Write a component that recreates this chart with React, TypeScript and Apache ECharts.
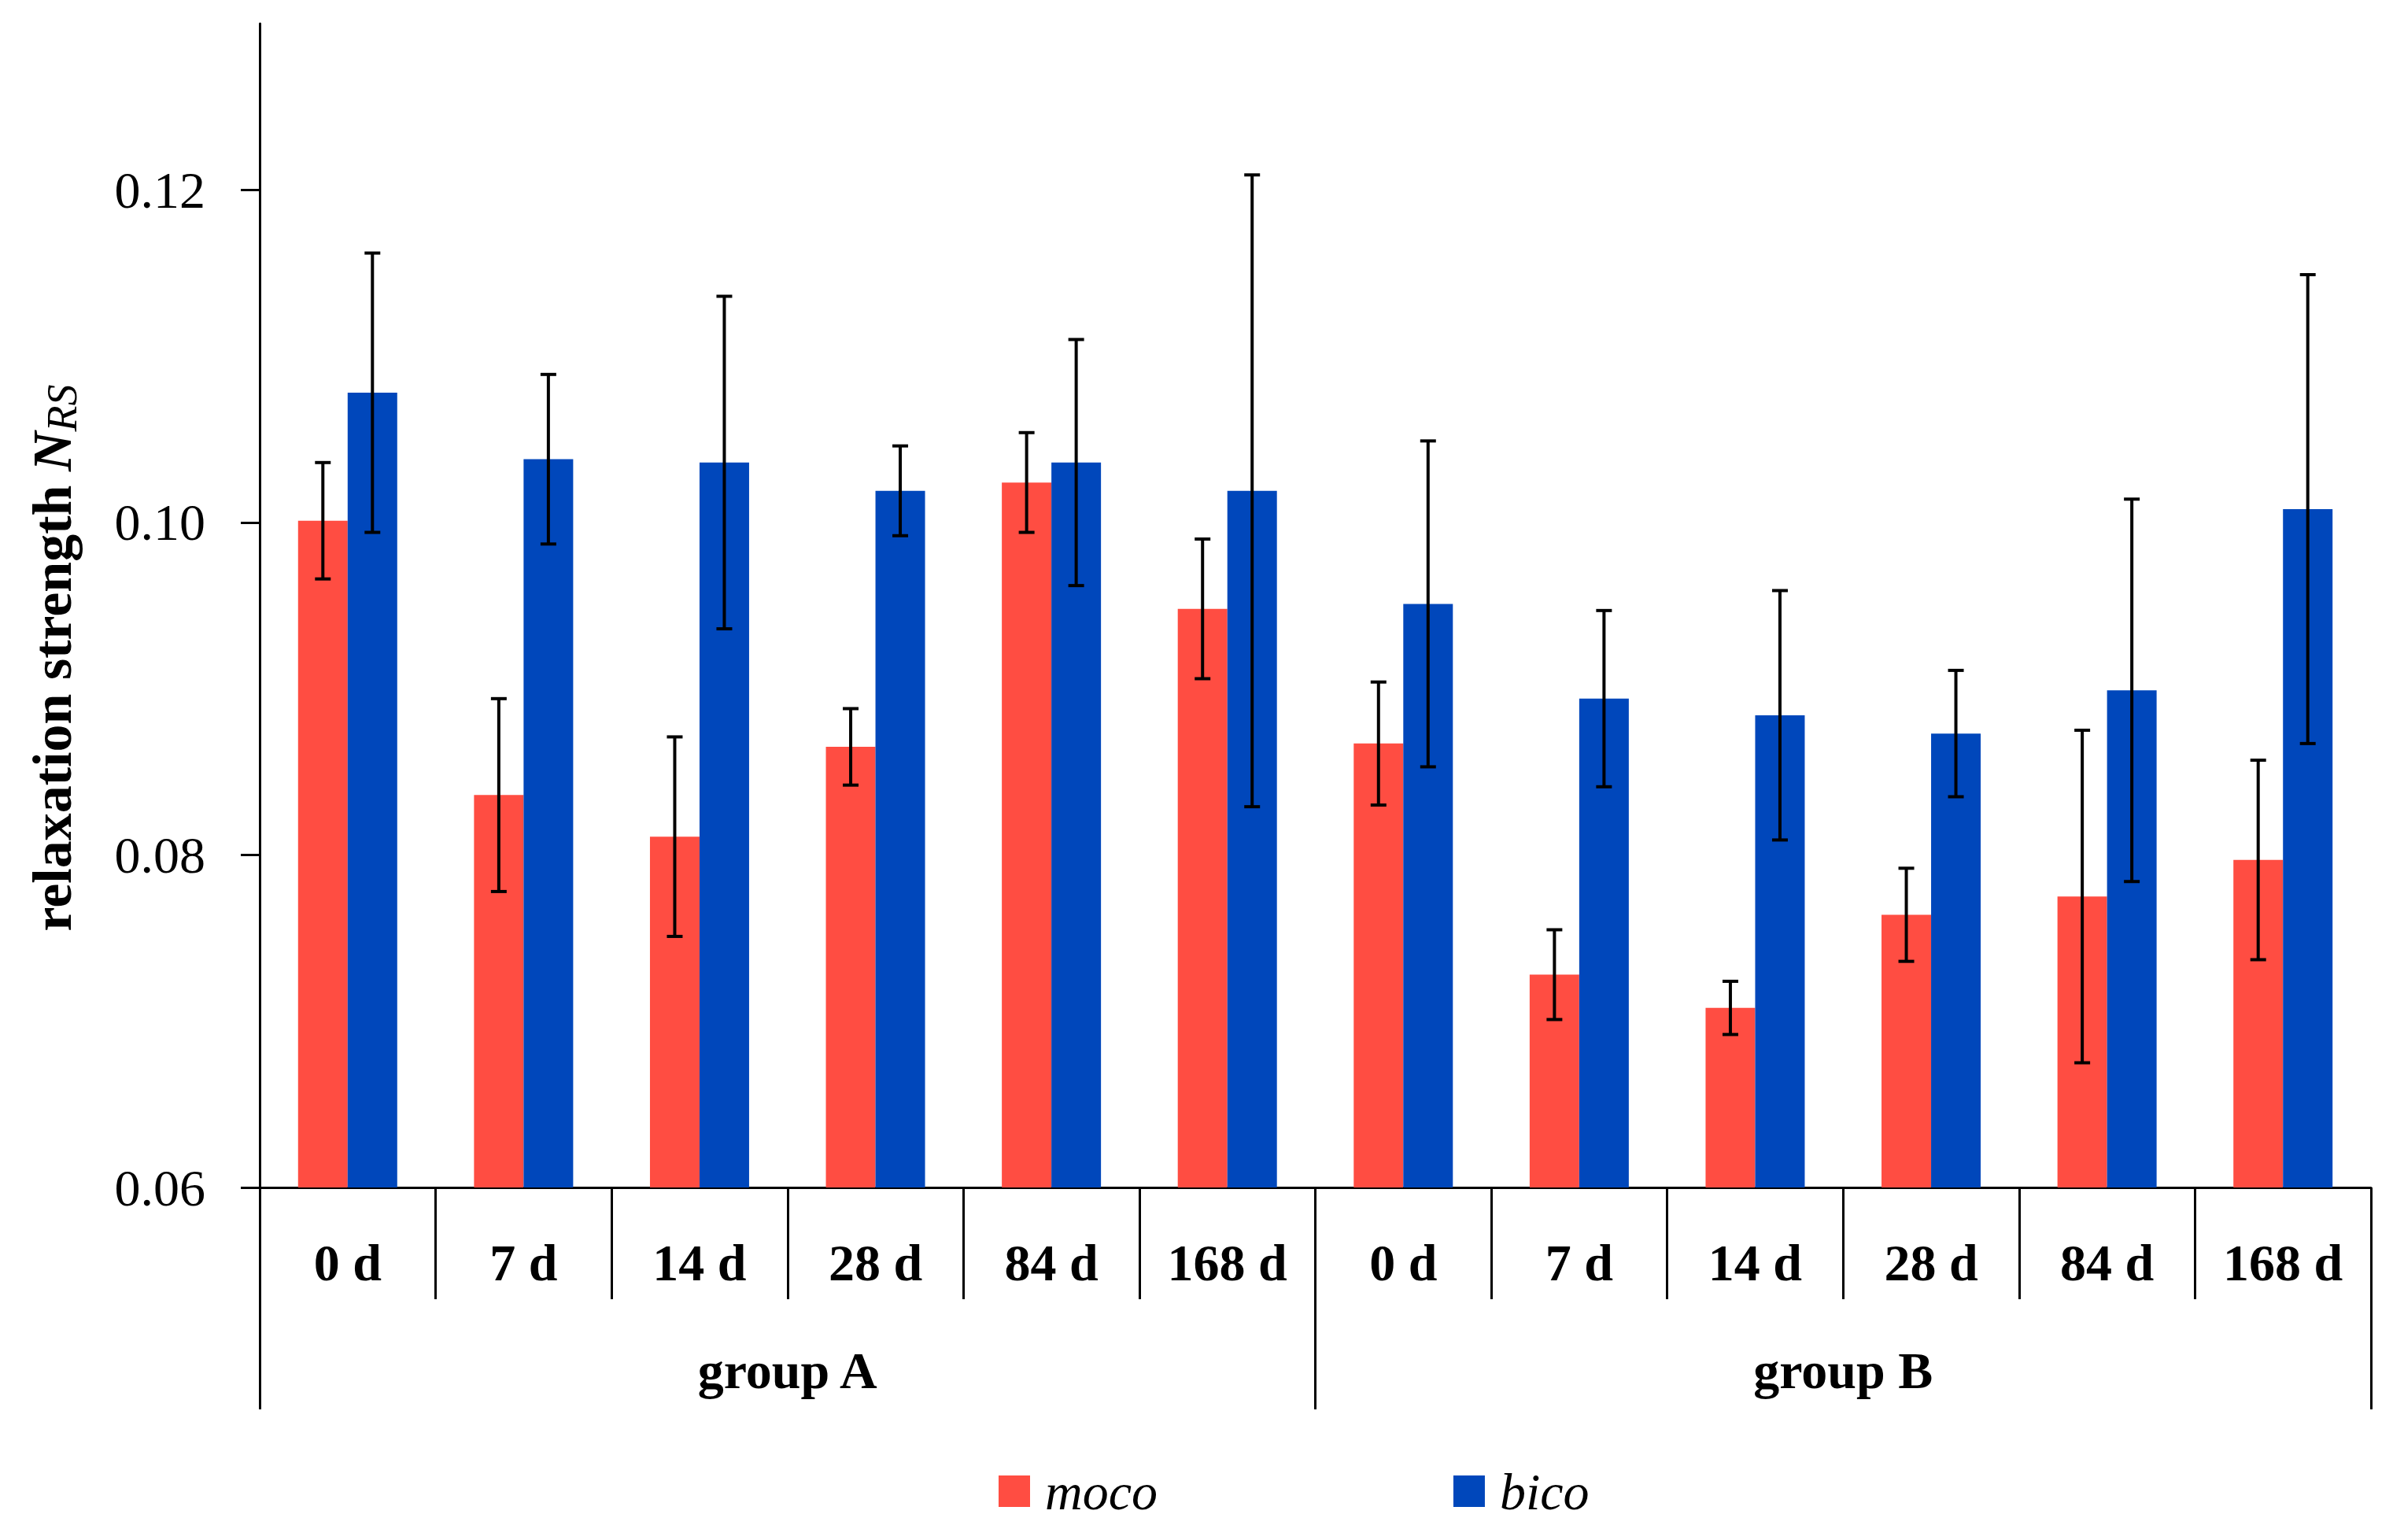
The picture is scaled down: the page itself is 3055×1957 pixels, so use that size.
import React, { useEffect, useRef } from "react";
import * as echarts from "echarts";

const categories = ["0 d", "7 d", "14 d", "28 d", "84 d", "168 d", "0 d", "7 d", "14 d", "28 d", "84 d", "168 d"];
const groups = ["group A", "group B"];
const seriesNames = ["moco", "bico"];

const mocoValues = [0.1001, 0.0836, 0.0811, 0.0865, 0.1024, 0.0948, 0.0867, 0.0728, 0.0708, 0.0764, 0.0775, 0.0797];
const mocoErrors = [0.0035, 0.0058, 0.006, 0.0023, 0.003, 0.0042, 0.0037, 0.0027, 0.0016, 0.0028, 0.01, 0.006];
const bicoValues = [0.1078, 0.1038, 0.1036, 0.1019, 0.1036, 0.1019, 0.0951, 0.0894, 0.0884, 0.0873, 0.0899, 0.1008];
const bicoErrors = [0.0084, 0.0051, 0.01, 0.0027, 0.0074, 0.019, 0.0098, 0.0053, 0.0075, 0.0038, 0.0115, 0.0141];

const yTicks = [0.06, 0.08, 0.1, 0.12];

const RED = "#FF4D42";
const BLUE = "#0047BB";
const FONT = "'Liberation Serif', 'DejaVu Serif', serif";
const BAR_W = 63;

function errorSeries(name: string, values: number[], errors: number[], side: number) {
  return {
    name,
    type: "custom",
    xAxisIndex: 0,
    yAxisIndex: 0,
    z: 10,
    silent: true,
    encode: { x: 0, y: [1, 2] },
    data: values.map((v, i) => [i, v - errors[i], v + errors[i]]),
    renderItem: (params: any, api: any) => {
      const i = api.value(0);
      const lo = api.coord([i, api.value(1)]);
      const hi = api.coord([i, api.value(2)]);
      const x = lo[0] + (side * BAR_W) / 2;
      const cap = 10;
      const style = { stroke: "#000", lineWidth: 4 };
      return {
        type: "group",
        children: [
          { type: "line", shape: { x1: x, y1: lo[1], x2: x, y2: hi[1] }, style },
          { type: "line", shape: { x1: x - cap, y1: lo[1], x2: x + cap, y2: lo[1] }, style },
          { type: "line", shape: { x1: x - cap, y1: hi[1], x2: x + cap, y2: hi[1] }, style },
        ],
      };
    },
  };
}

export default function App() {
  const ref = useRef<HTMLDivElement>(null);
  useEffect(() => {
    if (!ref.current) return;
    const chart = echarts.init(ref.current, null, { renderer: "svg" });
    const option: any = {
      animation: false,
      backgroundColor: "#fff",
      textStyle: { fontFamily: FONT, color: "#000" },
      grid: { left: 330, right: 42, top: 30, bottom: 448, containLabel: false },
      legend: {
        data: seriesNames,
        left: 1264,
        top: 1857,
        itemWidth: 40,
        itemHeight: 40,
        itemGap: 376,
        icon: "rect",
        textStyle: { fontFamily: FONT, fontStyle: "italic", fontSize: 66, color: "#000", padding: [0, 0, 0, 14] },
      },
      graphic: [
        {
          type: "text",
          x: 66,
          y: 836,
          rotation: Math.PI / 2,
          style: {
            text: "{b|relaxation strength }{n|N}{s|RS}",
            align: "center",
            verticalAlign: "middle",
            fill: "#000",
            rich: {
              b: { fontFamily: FONT, fontWeight: "bold", fontSize: 70, fill: "#000" },
              n: { fontFamily: FONT, fontWeight: "bold", fontStyle: "italic", fontSize: 70, fill: "#000" },
              s: { fontFamily: FONT, fontStyle: "italic", fontSize: 54, fill: "#000", padding: [26, 0, 0, 0] },
            },
          },
        },
      ],
      xAxis: [
        {
          type: "category",
          data: categories,
          boundaryGap: true,
          axisLine: { show: true, lineStyle: { color: "#000", width: 3 } },
          axisTick: { show: true, interval: 0, length: 142, lineStyle: { color: "#000", width: 3 } },
          axisLabel: {
            interval: 0,
            margin: 95,
            verticalAlign: "middle",
            fontFamily: FONT,
            fontWeight: "bold",
            fontSize: 66,
            color: "#000",
          },
          splitLine: { show: false },
        },
        {
          type: "category",
          data: groups,
          position: "bottom",
          offset: 0,
          boundaryGap: true,
          axisLine: { show: false },
          axisTick: { show: true, interval: 0, length: 282, lineStyle: { color: "#000", width: 3 } },
          axisLabel: {
            interval: 0,
            margin: 232,
            verticalAlign: "middle",
            fontFamily: FONT,
            fontWeight: "bold",
            fontSize: 66,
            color: "#000",
          },
          splitLine: { show: false },
        },
      ],
      yAxis: {
        type: "value",
        min: 0.06,
        max: 0.13,
        interval: 0.02,
        axisLine: { show: true, lineStyle: { color: "#000", width: 3 } },
        axisTick: { show: true, length: 24, lineStyle: { color: "#000", width: 3 }, customValues: yTicks },
        axisLabel: {
          margin: 69,
          fontFamily: FONT,
          fontSize: 66,
          color: "#000",
          customValues: yTicks,
          formatter: (v: number) => v.toFixed(2),
        },
        splitLine: { show: false },
      },
      series: [
        {
          name: seriesNames[0],
          type: "bar",
          xAxisIndex: 0,
          barWidth: BAR_W,
          barGap: "0%",
          itemStyle: { color: RED },
          data: mocoValues,
        },
        {
          name: seriesNames[1],
          type: "bar",
          xAxisIndex: 0,
          barWidth: BAR_W,
          barGap: "0%",
          itemStyle: { color: BLUE },
          data: bicoValues,
        },
        errorSeries("moco-err", mocoValues, mocoErrors, -1),
        errorSeries("bico-err", bicoValues, bicoErrors, 1),
      ],
    };
    chart.setOption(option);
    return () => chart.dispose();
  }, []);
  return (
    <div
      ref={ref}
      style={{ position: "fixed", left: 0, top: 0, width: 3055, height: 1957, background: "#fff" }}
    />
  );
}
